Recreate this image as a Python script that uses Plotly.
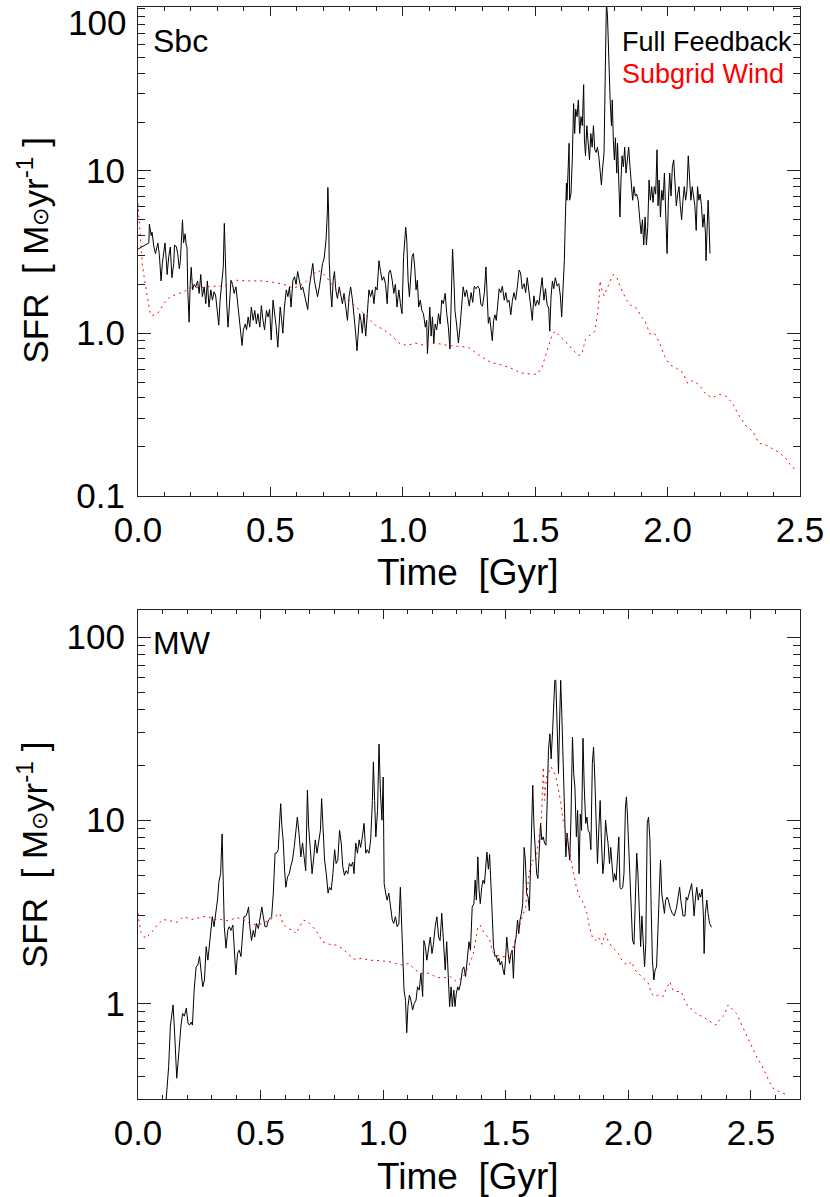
import plotly.graph_objects as go

# ---------------- data ----------------
# Sbc galaxy, Full Feedback (black)
sbc_ff_time = [0.000, 0.041, 0.043, 0.050, 0.053, 0.060, 0.066, 0.070, 0.075, 0.081, 0.087, 0.092, 0.097, 0.102, 0.107, 0.110,
 0.116, 0.122, 0.128, 0.135, 0.138, 0.145, 0.150, 0.156, 0.160, 0.163, 0.168, 0.172, 0.178, 0.182, 0.185, 0.188,
 0.193, 0.197, 0.201, 0.206, 0.212, 0.218, 0.225, 0.231, 0.237, 0.243, 0.250, 0.256, 0.262, 0.268, 0.275, 0.281,
 0.287, 0.293, 0.300, 0.305, 0.310, 0.316, 0.322, 0.326, 0.330, 0.335, 0.340, 0.345, 0.351, 0.357, 0.363, 0.370,
 0.376, 0.382, 0.387, 0.393, 0.398, 0.405, 0.410, 0.416, 0.422, 0.428, 0.435, 0.441, 0.447, 0.453, 0.460, 0.466,
 0.472, 0.478, 0.485, 0.491, 0.497, 0.503, 0.510, 0.516, 0.522, 0.528, 0.532, 0.537, 0.542, 0.547, 0.553, 0.560,
 0.566, 0.572, 0.578, 0.585, 0.591, 0.597, 0.603, 0.610, 0.616, 0.622, 0.628, 0.635, 0.641, 0.647, 0.653, 0.660,
 0.666, 0.672, 0.678, 0.685, 0.691, 0.697, 0.703, 0.710, 0.715, 0.717, 0.720, 0.722, 0.727, 0.732, 0.737, 0.742,
 0.747, 0.753, 0.760, 0.766, 0.772, 0.778, 0.785, 0.791, 0.797, 0.803, 0.810, 0.816, 0.822, 0.827, 0.832, 0.837,
 0.842, 0.847, 0.853, 0.860, 0.866, 0.872, 0.878, 0.885, 0.891, 0.897, 0.903, 0.910, 0.916, 0.922, 0.928, 0.935,
 0.941, 0.947, 0.953, 0.960, 0.966, 0.972, 0.978, 0.985, 0.991, 0.997, 1.003, 1.007, 1.011, 1.015, 1.020, 1.025,
 1.030, 1.035, 1.040, 1.045, 1.050, 1.055, 1.060, 1.066, 1.072, 1.078, 1.085, 1.090, 1.093, 1.097, 1.102, 1.107,
 1.112, 1.117, 1.122, 1.128, 1.135, 1.141, 1.147, 1.153, 1.160, 1.166, 1.172, 1.178, 1.185, 1.188, 1.193, 1.197,
 1.203, 1.210, 1.216, 1.222, 1.228, 1.235, 1.241,
 1.251, 1.258, 1.264, 1.270, 1.276, 1.283, 1.289, 1.295, 1.301, 1.308, 1.314, 1.318, 1.323, 1.328, 1.333, 1.338,
 1.343, 1.348, 1.353, 1.358, 1.364, 1.370, 1.376, 1.383, 1.389, 1.395, 1.401, 1.408, 1.414, 1.420, 1.426, 1.433,
 1.439, 1.445, 1.451, 1.458, 1.464, 1.470, 1.476, 1.483, 1.489, 1.495, 1.501, 1.508, 1.514, 1.520, 1.526, 1.533,
 1.539, 1.545, 1.551, 1.555, 1.560, 1.565, 1.570, 1.576, 1.583, 1.589, 1.595, 1.600, 1.605, 1.610, 1.614, 1.618,
 1.620, 1.624, 1.628, 1.630, 1.635, 1.640, 1.645, 1.649, 1.653, 1.658, 1.663, 1.668, 1.673, 1.678, 1.683, 1.686,
 1.690, 1.695, 1.700, 1.705, 1.710, 1.715, 1.720, 1.725, 1.730, 1.735, 1.740, 1.745, 1.750, 1.755, 1.760, 1.765,
 1.769, 1.773, 1.778, 1.783, 1.788, 1.791, 1.795, 1.799, 1.803, 1.808, 1.811, 1.816, 1.820, 1.824, 1.828, 1.833,
 1.838, 1.843, 1.848, 1.853, 1.858, 1.863, 1.868, 1.873, 1.878, 1.883, 1.889, 1.895, 1.900, 1.905, 1.910, 1.915,
 1.920, 1.925, 1.930, 1.935, 1.940, 1.945, 1.950, 1.955, 1.960, 1.964, 1.968, 1.973, 1.978, 1.983, 1.988, 1.993,
 1.998, 2.003, 2.008, 2.013, 2.018, 2.023, 2.028, 2.033, 2.038, 2.043, 2.048, 2.053, 2.058, 2.063, 2.068, 2.073,
 2.078, 2.083, 2.088, 2.093, 2.098, 2.103, 2.108, 2.113, 2.118, 2.123, 2.128, 2.133, 2.138, 2.143, 2.145, 2.149,
 2.153, 2.156, 2.160]
sbc_ff_sfr = [3.3, 3.6, 4.7, 4.0, 4.2, 3.4, 3.1, 3.3, 3.6, 3.0, 2.1, 2.7, 3.3, 3.6, 2.8, 2.3,
 2.96, 3.4, 2.2, 2.7, 3.5, 3.4, 3.1, 2.5, 2.8, 3.4, 5.0, 3.6, 4.1, 3.5, 3.4, 1.85,
 1.17, 2.0, 2.55, 1.85, 2.0, 1.93, 2.1, 1.76, 2.3, 1.68, 1.93, 1.52, 2.1, 1.45, 1.85, 1.6,
 1.8, 1.72, 1.32, 1.12, 1.6, 2.0, 2.55, 4.75, 2.35, 1.52, 1.09, 1.45, 2.12, 2.0, 1.76, 1.93,
 1.52, 1.26, 1.09, 0.84, 1.05, 1.14, 1.05, 1.26, 1.09, 1.45, 1.2, 1.38, 1.14, 1.32, 1.09, 1.48,
 1.2, 1.05, 1.38, 1.26, 1.4, 0.91, 1.6, 1.35, 1.09, 0.82, 1.02, 1.45, 1.23, 1.0, 1.45, 1.85,
 1.68, 1.93, 1.45, 2.12, 2.23, 2.0, 2.4, 2.12, 1.85, 1.93, 1.76, 1.52, 1.4, 1.93, 2.23, 2.69,
 2.12, 1.85, 1.68, 1.93, 2.3, 2.69, 2.9, 3.75, 5.5, 7.9, 5.5, 2.8, 1.85, 1.45, 2.12, 2.4,
 1.85, 1.64, 1.93, 1.68, 1.52, 1.76, 1.45, 1.2, 1.68, 1.93, 1.6, 1.32, 1.0, 0.78, 1.09, 1.32,
 1.2, 1.0, 1.32, 0.96, 1.32, 1.85, 1.68, 1.85, 1.52, 1.93, 1.85, 2.8, 2.4, 2.12, 2.23, 2.0,
 1.52, 2.35, 2.45, 2.12, 1.76, 2.0, 1.45, 1.85, 1.52, 1.32, 2.96, 3.9, 4.5, 3.75, 2.12, 1.68,
 2.45, 2.96, 3.1, 2.55, 1.85, 2.12, 1.45, 1.6, 1.38, 1.32, 1.09, 1.2, 0.75, 1.0, 1.45, 0.96,
 1.26, 0.87, 1.14, 1.05, 1.32, 1.14, 1.6, 1.52, 1.76, 1.32, 1.09, 0.8, 2.12, 3.3, 2.12, 1.38,
 1.14, 0.87, 1.09, 1.45, 1.93, 1.68, 1.85,
 1.47, 1.78, 1.55, 1.95, 1.88, 1.95, 1.88, 1.5, 1.47, 1.78, 2.56, 1.88, 1.15, 1.26, 1.03, 0.9,
 1.2, 1.3, 1.2, 1.47, 1.88, 1.78, 1.95, 1.6, 1.78, 1.55, 1.6, 1.3, 1.6, 1.78, 1.6, 1.95,
 2.45, 2.35, 1.88, 2.02, 1.78, 2.2, 1.88, 1.47, 1.2, 1.7, 1.47, 1.6, 1.5, 1.78, 2.2, 1.6,
 1.88, 1.5, 1.43, 1.03, 1.7, 2.1, 1.88, 2.2, 1.95, 2.02, 1.7, 1.26, 1.88, 2.8, 5.2, 8.4,
 6.6, 11.2, 14.8, 6.6, 7.2, 11.7, 26, 17, 24, 21.6, 27.4, 17, 21.6, 19, 34, 15.5,
 12.4, 19, 14, 11.7, 17, 14, 19, 13.5, 13, 14, 12.4, 9.7, 8.2, 10.6, 13, 44,
 110, 90, 44, 27.4, 19, 27.4, 15.5, 11.7, 16, 9.7, 14.8, 8.8, 5.2, 8.8, 12.4, 10.6,
 14, 9.7, 12.4, 14, 10.6, 8.8, 6.6, 8.0, 7.0, 7.2, 6.6, 5.0, 4.1, 5.0, 3.5, 5.2,
 3.5, 4.5, 8.8, 6.6, 8.0, 6.4, 8.0, 7.2, 13.5, 6.1, 8.8, 5.2, 7.6, 6.6, 9.7, 5.4,
 3.1, 6.6, 9.7, 7.0, 10.6, 11.7, 8.0, 6.1, 7.2, 8.0, 6.1, 5.0, 6.6, 8.0, 6.6, 7.6,
 12.4, 8.4, 6.6, 8.0, 7.2, 6.1, 4.3, 8.0, 6.6, 7.2, 6.1, 4.5, 5.4, 4.1, 2.8, 5.4,
 6.6, 5.0, 3.1]

# Sbc galaxy, Subgrid Wind (red dotted)
sbc_sw_time = [0.000, 0.007, 0.016, 0.025, 0.035, 0.045, 0.053, 0.075, 0.097, 0.122, 0.147, 0.172, 0.197, 0.222, 0.247,
 0.285, 0.322, 0.347, 0.372, 0.422, 0.472, 0.522, 0.560, 0.585, 0.610, 0.635, 0.660, 0.678, 0.697, 0.716, 0.735,
 0.753, 0.772, 0.797, 0.822, 0.847, 0.872, 0.897, 0.928, 0.960, 0.985, 1.016, 1.047, 1.085, 1.122, 1.172, 1.210,
 1.247, 1.295, 1.333, 1.370, 1.408, 1.445, 1.483, 1.508, 1.526, 1.545, 1.564, 1.576, 1.595, 1.620, 1.645, 1.664,
 1.676, 1.689, 1.708, 1.726, 1.739, 1.745, 1.751, 1.760, 1.770, 1.783, 1.795, 1.808, 1.820, 1.833, 1.845, 1.864,
 1.883, 1.901, 1.914, 1.933, 1.951, 1.970, 1.989, 2.008, 2.033, 2.058, 2.076, 2.095, 2.120, 2.145, 2.170, 2.195,
 2.220, 2.245, 2.270, 2.295, 2.320, 2.345, 2.370, 2.395, 2.420, 2.445, 2.470, 2.483]
sbc_sw_sfr = [6.3, 4.3, 2.69, 2.12, 1.68, 1.35, 1.28, 1.33, 1.52, 1.68, 1.74, 1.8, 1.9, 1.92, 1.92,
 1.95, 1.95, 2.02, 2.12, 2.1, 2.1, 2.05, 1.98, 1.9, 1.95, 2.08, 2.3, 2.45, 2.35, 2.17, 1.97,
 1.85, 1.72, 1.6, 1.45, 1.35, 1.23, 1.12, 1.05, 0.96, 0.87, 0.84, 0.87, 0.84, 0.87, 0.84, 0.83,
 0.82, 0.72, 0.66, 0.64, 0.61, 0.57, 0.56, 0.56, 0.62, 0.78, 0.98, 1.03, 0.95, 0.87, 0.78, 0.73,
 0.74, 0.91, 0.98, 1.03, 1.47, 2.1, 1.88, 1.7, 1.88, 2.1, 2.3, 2.2, 1.95, 1.78, 1.6, 1.47,
 1.43, 1.26, 1.2, 0.99, 1.0, 0.87, 0.72, 0.64, 0.61, 0.57, 0.49, 0.51, 0.48, 0.42, 0.40, 0.42,
 0.41, 0.37, 0.31, 0.27, 0.25, 0.21, 0.205, 0.195, 0.185, 0.17, 0.15, 0.145]

# MW galaxy, Full Feedback (black)
mw_ff_time = [0.105, 0.119, 0.125, 0.132, 0.137, 0.143, 0.148, 0.154, 0.158, 0.163, 0.168, 0.175, 0.182, 0.189, 0.197, 0.204,
 0.210, 0.217, 0.222, 0.229, 0.237, 0.244, 0.251, 0.258, 0.264, 0.271, 0.278, 0.285, 0.291, 0.298, 0.303, 0.310,
 0.317, 0.324, 0.330, 0.337, 0.343, 0.347, 0.352, 0.359, 0.366, 0.372, 0.379, 0.387, 0.393, 0.399, 0.406, 0.413,
 0.420, 0.426, 0.432, 0.438, 0.445, 0.451, 0.456, 0.463, 0.470, 0.476, 0.483, 0.491, 0.498, 0.505, 0.511, 0.518,
 0.525, 0.532, 0.538, 0.545, 0.552, 0.559, 0.565, 0.572, 0.578, 0.582, 0.587, 0.592, 0.598, 0.603, 0.610, 0.617,
 0.623, 0.630, 0.637, 0.644, 0.650, 0.657, 0.664, 0.671, 0.677, 0.684, 0.691, 0.696, 0.703, 0.710, 0.717, 0.723,
 0.730, 0.737, 0.744, 0.749, 0.754, 0.761, 0.768, 0.775, 0.781, 0.788, 0.795, 0.802, 0.808, 0.815, 0.822, 0.829,
 0.835, 0.842, 0.849, 0.856, 0.862, 0.869, 0.876, 0.881, 0.888, 0.895, 0.902, 0.908, 0.915, 0.922, 0.929, 0.935,
 0.942, 0.949, 0.956, 0.960, 0.965, 0.970, 0.977, 0.983, 0.989, 0.995, 1.000, 1.004, 1.010, 1.016, 1.023, 1.030,
 1.037, 1.043, 1.050, 1.057, 1.064, 1.070, 1.076, 1.081, 1.085, 1.091, 1.096, 1.101, 1.107, 1.113, 1.120, 1.127,
 1.134, 1.140, 1.147, 1.154, 1.161, 1.166, 1.172, 1.178, 1.185, 1.192, 1.199, 1.205, 1.212, 1.219, 1.226, 1.232,
 1.239, 1.246, 1.253, 1.259, 1.266, 1.271, 1.277, 1.282, 1.288, 1.293, 1.298, 1.304, 1.309, 1.316, 1.323, 1.329,
 1.336, 1.343, 1.350, 1.356, 1.363, 1.370,
 1.375, 1.380, 1.386, 1.391, 1.396, 1.402, 1.407, 1.413, 1.418, 1.423, 1.429, 1.434, 1.440, 1.445, 1.450, 1.456,
 1.461, 1.467, 1.472, 1.477, 1.483, 1.488, 1.494, 1.499, 1.504, 1.510, 1.515, 1.521, 1.526, 1.531, 1.537, 1.542,
 1.548, 1.553, 1.558, 1.564, 1.569, 1.575, 1.580, 1.585, 1.591, 1.596, 1.602, 1.607, 1.610, 1.615, 1.620, 1.626,
 1.631, 1.637, 1.642, 1.647, 1.653, 1.658, 1.664, 1.669, 1.674, 1.680, 1.685, 1.691, 1.696, 1.700, 1.704, 1.710,
 1.715, 1.720, 1.724, 1.728, 1.734, 1.739, 1.745, 1.750, 1.755, 1.761, 1.766, 1.772, 1.777, 1.782, 1.788, 1.793,
 1.799, 1.804, 1.809, 1.815, 1.820, 1.826, 1.831, 1.836, 1.842, 1.847, 1.853, 1.858, 1.863, 1.869, 1.874, 1.880,
 1.885, 1.890, 1.896, 1.901, 1.907, 1.912, 1.917, 1.923, 1.928, 1.934, 1.939, 1.944, 1.950, 1.955, 1.961, 1.966,
 1.971, 1.977, 1.982, 1.988, 1.992, 1.996, 2.001, 2.007, 2.012, 2.017, 2.023, 2.028, 2.034, 2.039, 2.044, 2.050,
 2.055, 2.061, 2.066, 2.071, 2.077, 2.082, 2.088, 2.093, 2.098, 2.104, 2.109, 2.115, 2.120, 2.125, 2.131, 2.136,
 2.142, 2.147, 2.152, 2.158, 2.163, 2.171, 2.179, 2.187, 2.196, 2.204, 2.209, 2.214, 2.223, 2.231, 2.236, 2.241,
 2.247, 2.252, 2.258, 2.263, 2.268, 2.274, 2.279, 2.285, 2.290, 2.295, 2.301, 2.306, 2.309, 2.314, 2.320, 2.325,
 2.331, 2.339]
mw_ff_sfr = [0.2, 0.34, 0.45, 0.75, 0.88, 0.98, 0.75, 0.49, 0.39, 0.47, 0.58, 0.75, 0.88, 0.85, 0.94, 0.78,
 0.76, 0.79, 0.76, 1.18, 1.58, 1.62, 1.8, 1.52, 1.23, 1.34, 2.04, 1.72, 2.04, 2.4, 2.97, 2.62,
 3.1, 3.66, 4.6, 5.1, 8.4, 5.1, 2.62, 2.0, 2.5, 2.62, 2.5, 2.67, 1.87, 1.43, 1.87, 1.95,
 1.8, 2.4, 2.97, 2.97, 3.1, 3.36, 2.62, 2.2, 2.5, 2.3, 2.73, 2.56, 2.97, 3.36, 2.97, 2.62,
 2.62, 2.85, 2.9, 2.97, 4.0, 6.6, 6.6, 6.9, 10, 12.3, 9.2, 7.8, 5.3, 4.3, 4.9, 5.1,
 5.6, 6.05, 7.1, 9.2, 10.4, 8.4, 6.3, 7.5, 6.3, 5.3, 14.6, 9.2, 6.9, 5.1, 6.3, 7.8,
 6.6, 7.5, 8.8, 13.1, 9.2, 6.05, 5.1, 4.0, 4.3, 4.15, 5.1, 6.9, 5.8, 6.05, 8.8, 7.5,
 5.6, 5.0, 5.3, 5.1, 5.8, 5.6, 5.9, 5.1, 7.5, 6.6, 7.8, 7.1, 8.1, 9.6, 6.6, 6.9,
 6.6, 7.8, 12.8, 20.8, 12.8, 8.1, 11.3, 26, 14, 10, 17.2, 4.5, 4.0, 3.66, 4.0, 3.36,
 2.85, 2.73, 2.97, 2.62, 2.73, 4.3, 2.4, 1.58, 1.18, 1.04, 0.69, 0.96, 1.11, 1.04, 0.92, 1.0,
 1.04, 1.23, 1.18, 1.46, 1.09, 2.2, 2.04, 1.72, 1.95, 2.3, 1.87, 2.1, 2.62, 2.97, 2.3, 2.2,
 3.1, 2.04, 1.52, 2.17, 1.34, 0.96, 1.23, 0.96, 1.18, 0.96, 1.13, 1.23, 1.18, 1.29, 1.52, 1.58,
 1.4, 1.72, 2.17, 1.95, 3.36, 3.5,
 4.7, 3.66, 6.3, 4.15, 3.5, 4.3, 4.7, 4.5, 5.55, 6.7, 5.4, 6.5, 4.3, 2.85, 2.04, 1.8,
 1.83, 1.69, 1.76, 1.62, 1.69, 1.55, 1.43, 1.72, 2.3, 1.87, 1.65, 1.87, 1.95, 1.37, 2.1, 2.3,
 2.85, 2.4, 2.85, 3.1, 3.5, 7.1, 6.05, 4.0, 3.8, 3.2, 6.3, 9.2, 15.5, 9.2, 7.1, 5.1,
 4.8, 7.8, 9.6, 7.8, 8.1, 7.5, 7.3, 12.8, 24, 29.6, 21.6, 30.9, 40.6, 58, 58, 25,
 18, 36.6, 58, 40, 18.7, 10, 6.3, 8.5, 6.9, 6.05, 10.4, 28.4, 18, 15.2, 8.1, 11.3,
 5.1, 10.8, 8.8, 28, 15.2, 9.6, 10.4, 8.8, 8.5, 6.9, 20.4, 25, 17.2, 9.2, 5.8, 9.2,
 12.8, 7.8, 5.1, 6.05, 10, 8.5, 7.5, 5.8, 7.1, 5.55, 4.6, 5.1, 4.7, 6.05, 8.1, 4.3,
 4.2, 4.3, 5.1, 11.8, 13.4, 10.8, 7.1, 4.9, 3.5, 2.2, 2.1, 3.66, 6.6, 5.1, 3.1, 2.04,
 3.0, 2.1, 1.58, 2.1, 9.6, 10.4, 7.8, 3.3, 1.72, 1.34, 1.52, 1.58, 2.4, 4.15, 6.05, 4.0,
 3.3, 3.1, 3.66, 3.8, 3.66, 3.3, 3.1, 3.0, 3.3, 3.8, 4.3, 3.66, 3.0, 3.0, 3.8, 3.66,
 4.0, 4.15, 4.5, 3.8, 3.0, 3.8, 4.3, 3.66, 4.0, 3.8, 4.2, 3.0, 1.87, 3.1, 3.66, 3.1,
 2.73, 2.6]

# MW galaxy, Subgrid Wind (red dotted)
mw_sw_time = [0.000, 0.011, 0.031, 0.058, 0.078, 0.102, 0.132, 0.159, 0.186, 0.220, 0.254, 0.281, 0.308, 0.335, 0.368,
 0.402, 0.429, 0.456, 0.483, 0.510, 0.537, 0.557, 0.578, 0.591, 0.611, 0.632, 0.645, 0.659, 0.676, 0.699, 0.726,
 0.753, 0.780, 0.807, 0.834, 0.854, 0.881, 0.915, 0.942, 0.983, 1.023, 1.050, 1.077, 1.104, 1.131, 1.158, 1.185,
 1.212, 1.239, 1.273, 1.300, 1.327, 1.347, 1.367, 1.386, 1.396, 1.406, 1.419, 1.433, 1.446, 1.460, 1.480, 1.500,
 1.514, 1.527, 1.541, 1.554, 1.568, 1.581, 1.595, 1.608, 1.622, 1.635, 1.645, 1.653, 1.658, 1.666, 1.676, 1.685,
 1.693, 1.703, 1.712, 1.723, 1.734, 1.745, 1.755, 1.766, 1.777, 1.788, 1.801, 1.818, 1.831, 1.842, 1.853, 1.865,
 1.878, 1.892, 1.905, 1.919, 1.932, 1.946, 1.959, 1.973, 1.986, 2.000, 2.013, 2.027, 2.040, 2.054, 2.067, 2.081,
 2.094, 2.108, 2.121, 2.142, 2.155, 2.169, 2.182, 2.196, 2.216, 2.229, 2.243, 2.263, 2.283, 2.304, 2.324, 2.344,
 2.358, 2.371, 2.391, 2.407, 2.425, 2.441, 2.459, 2.476, 2.493, 2.509, 2.526, 2.544, 2.560, 2.576, 2.594, 2.614,
 2.634, 2.648]
mw_sw_sfr = [3.1, 2.46, 2.26, 2.46, 2.67, 2.87, 2.82, 2.77, 2.97, 2.87, 2.94, 3.0, 2.87, 2.87, 2.82,
 2.94, 2.87, 2.73, 2.67, 2.73, 2.85, 2.97, 3.1, 2.73, 2.56, 2.5, 2.4, 2.62, 2.85, 2.73, 2.5,
 2.17, 2.1, 2.08, 1.99, 1.87, 1.74, 1.76, 1.72, 1.71, 1.69, 1.65, 1.62, 1.65, 1.52, 1.46, 1.46,
 1.4, 1.37, 1.4, 1.31, 1.4, 1.58, 1.84, 2.6, 2.67, 2.5, 2.36, 2.26, 1.91, 1.83, 1.8, 1.8,
 1.76, 1.95, 2.3, 2.6, 2.97, 3.36, 5.1, 6.05, 5.9, 7.8, 10, 19.5, 12.8, 17.2, 18.3, 19.5,
 18.7, 17.6, 15.2, 12.8, 10, 8.5, 7.8, 6.05, 5.1, 4.3, 3.8, 3.5, 3.1, 2.6, 2.3, 2.2,
 2.3, 2.1, 2.4, 2.17, 2.04, 1.95, 1.87, 1.72, 1.65, 1.62, 1.69, 1.52, 1.46, 1.4, 1.34, 1.29,
 1.13, 1.09, 1.11, 1.09, 1.21, 1.31, 1.18, 1.16, 1.16, 1.04, 0.96, 0.92, 0.86, 0.85, 0.81, 0.78,
 0.76, 0.81, 0.86, 0.98, 0.92, 0.88, 0.78, 0.70, 0.63, 0.56, 0.50, 0.46, 0.415, 0.37, 0.34, 0.33,
 0.32, 0.315]

panel_names = ["Sbc", "MW"]
legend_labels = ["Full Feedback", "Subgrid Wind"]
top_ytick_vals = [0.1, 1, 10]
top_ytick_text = ["0.1", "1.0", "10"]
top_ytick_extra = ["100"]          # drawn just below its tick, as in the original
bot_ytick_vals = [1, 10, 100]
bot_ytick_text = ["1", "10", "100"]
xtick_vals = [0.0, 0.5, 1.0, 1.5, 2.0, 2.5]
xtick_text = ["0.0", "0.5", "1.0", "1.5", "2.0", "2.5"]

# ---------------- figure ----------------
W, H = 830, 1197
ML, MR, MT, MB = 138, 25, 6, 98
PH = H - MT - MB
PW = W - ML - MR
def py(p):  # pixel y -> paper
    return (H - MB - p) / PH
def px(p):
    return (p - ML) / PW

FONT = "Liberation Sans, Arial, Helvetica, sans-serif"
TICKFS = 35
TITLEFS = 37

fig = go.Figure()
fig.add_trace(go.Scatter(x=sbc_ff_time, y=sbc_ff_sfr, mode="lines",
                         line=dict(color="black", width=1), xaxis="x", yaxis="y", showlegend=False))
fig.add_trace(go.Scatter(x=sbc_sw_time, y=sbc_sw_sfr, mode="lines",
                         line=dict(color="#ff0000", width=1, dash="2px,4px"), xaxis="x", yaxis="y", showlegend=False))
fig.add_trace(go.Scatter(x=mw_ff_time, y=mw_ff_sfr, mode="lines",
                         line=dict(color="black", width=1), xaxis="x2", yaxis="y2", showlegend=False))
fig.add_trace(go.Scatter(x=mw_sw_time, y=mw_sw_sfr, mode="lines",
                         line=dict(color="#ff0000", width=1, dash="2px,4px"), xaxis="x2", yaxis="y2", showlegend=False))

minor_top = [m * 10.0 ** d for d in (-1, 0, 1) for m in range(2, 10)] + [100.0]
minor_bot = [m * 10.0 ** d for d in (-1, 0, 1, 2) for m in range(2, 10)]
xminor = [i / 10 for i in range(0, 28)]

common_axis = dict(showline=True, linecolor="#222", linewidth=1, mirror="allticks",
                   ticks="inside", tickcolor="#222", tickwidth=1, showgrid=False, zeroline=False,
                   tickfont=dict(family=FONT, size=TICKFS, color="black"))

fig.update_layout(
    width=W, height=H, margin=dict(l=ML, r=MR, t=MT, b=MB),
    paper_bgcolor="white", plot_bgcolor="white",
    xaxis=dict(domain=[0, 1], anchor="y", range=[0, 2.5], tickvals=xtick_vals, ticktext=xtick_text,
               ticklen=9, ticklabelstandoff=3,
               minor=dict(tickvals=xminor, ticklen=4, ticks="inside", tickcolor="#222"), **common_axis),
    yaxis=dict(domain=[py(495), 1], anchor="x", type="log", range=[-1, 2.01],
               tickvals=top_ytick_vals, ticktext=top_ytick_text, ticklen=13, ticklabelstandoff=5,
               minor=dict(tickvals=minor_top, ticklen=7, ticks="inside", tickcolor="#222"), **common_axis),
    xaxis2=dict(domain=[0, 1], anchor="y2", range=[0, 2.7], tickvals=xtick_vals, ticktext=xtick_text,
                ticklen=9, ticklabelstandoff=3,
                minor=dict(tickvals=xminor, ticklen=4, ticks="inside", tickcolor="#222"), **common_axis),
    yaxis2=dict(domain=[0, py(610)], anchor="x2", type="log", range=[-0.5225, 2.145],
                tickvals=bot_ytick_vals, ticktext=bot_ytick_text, ticklen=13, ticklabelstandoff=5,
                minor=dict(tickvals=minor_bot, ticklen=7, ticks="inside", tickcolor="#222"), **common_axis),
)

ann = []
def add_text(text, xp, yp, size, color="black", xanchor="left", angle=0):
    ann.append(dict(text=text, xref="paper", yref="paper", x=px(xp), y=py(yp), showarrow=False,
                    xanchor=xanchor, yanchor="middle", textangle=angle,
                    font=dict(family=FONT, size=size, color=color)))

add_text(top_ytick_extra[0], 128, 22, TICKFS, xanchor="right")
add_text(panel_names[0], 151, 40, 32)
add_text(panel_names[1], 151, 643, 32)
add_text(legend_labels[0], 624, 41, 27)
add_text(legend_labels[1], 624, 73, 27, color="#ff0000")
ytitle = "SFR  [ M<span style='font-size:22px'>⊙</span>yr<sup>-1</sup> ]"
add_text(ytitle, 32, 250, TICKFS, xanchor="center", angle=-90)
add_text(ytitle, 32, 855, TICKFS, xanchor="center", angle=-90)
add_text("Time  [Gyr]", 470, 572, TITLEFS, xanchor="center")
add_text("Time  [Gyr]", 470, 1177, TITLEFS, xanchor="center")
fig.update_layout(annotations=ann)

fig.write_html("out.html", config={"displayModeBar": False},
               post_script="document.body.style.margin='0px';")
